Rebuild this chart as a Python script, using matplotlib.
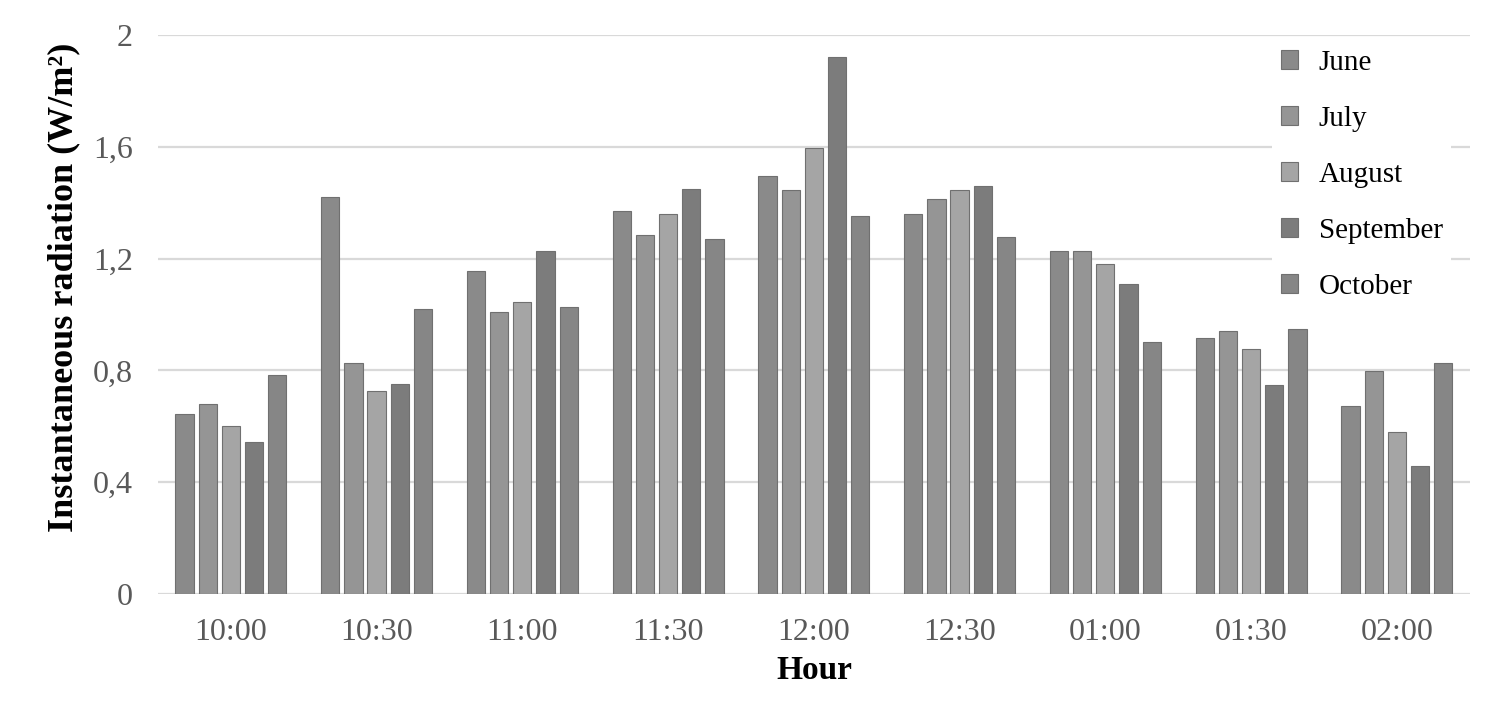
import matplotlib
matplotlib.use("Agg")
import matplotlib.pyplot as plt
import numpy as np

plt.rcParams['font.family'] = ['Liberation Serif', 'DejaVu Serif']

# data
hours = ["10:00", "10:30", "11:00", "11:30", "12:00", "12:30", "01:00", "01:30", "02:00"]
months = ["June", "July", "August", "September", "October"]

june = [0.644, 1.422, 1.154, 1.372, 1.496, 1.361, 1.227, 0.916, 0.672]
july = [0.678, 0.827, 1.010, 1.286, 1.446, 1.412, 1.227, 0.942, 0.798]
august = [0.600, 0.727, 1.044, 1.361, 1.595, 1.446, 1.179, 0.875, 0.580]
september = [0.543, 0.751, 1.228, 1.448, 1.921, 1.461, 1.110, 0.749, 0.457]
october = [0.785, 1.018, 1.028, 1.271, 1.353, 1.278, 0.902, 0.949, 0.825]

yticks = [0, 0.4, 0.8, 1.2, 1.6, 2]
ytick_labels = ["0", "0,4", "0,8", "1,2", "1,6", "2"]

series = [june, july, august, september, october]
colors = ["#8a8a8a", "#959595", "#a5a5a5", "#7c7c7c", "#868686"]

fig = plt.figure(figsize=(15.06, 7.19), dpi=100)
ax = fig.add_axes([0.1049, 0.1739, 0.871, 0.7774])

x = np.arange(len(hours))
pitch = 0.159
width = 0.125
for i, (vals, c, m) in enumerate(zip(series, colors, months)):
    ax.bar(x + (i - 2) * pitch, vals, width, color=c, edgecolor="#707070",
           linewidth=0.8, label=m, zorder=3)

ax.set_xlim(-0.5, len(hours) - 0.5)
ax.set_ylim(0, 2)
ax.set_yticks(yticks)
ax.set_yticklabels(ytick_labels)
ax.set_xticks(x)
ax.set_xticklabels(hours)

ax.yaxis.grid(True, color="#d9d9d9", linewidth=1.6, zorder=0)
ax.set_axisbelow(True)
for s in ax.spines.values():
    s.set_visible(False)
ax.tick_params(axis="both", length=0, labelsize=23, labelcolor="#595959")
ax.tick_params(axis="x", pad=17)
ax.tick_params(axis="y", pad=18)

ax.set_xlabel("Hour", fontsize=24, fontweight="bold", labelpad=6)
ax.set_ylabel("Instantaneous radiation (W/m²)", fontsize=26, fontweight="bold")
ax.yaxis.set_label_coords(-0.059, 0.549)

leg = fig.legend(loc="upper left", bbox_to_anchor=(1272 / 1506, 1 - 41 / 719),
                 frameon=True, fontsize=21, handlelength=0.6, handleheight=0.6,
                 handletextpad=0.7, labelspacing=1.03, borderpad=0.3,
                 borderaxespad=0)
leg.get_frame().set_facecolor("white")
leg.get_frame().set_edgecolor("none")
leg.get_frame().set_alpha(1)

fig.savefig("out.png", dpi=100, facecolor="white")
